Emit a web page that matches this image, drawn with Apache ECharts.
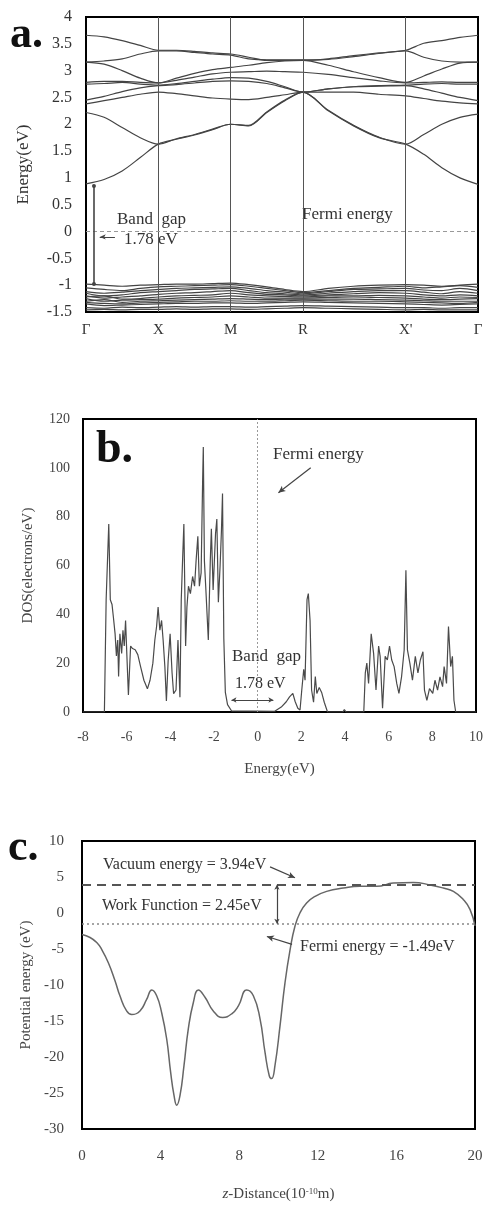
<!DOCTYPE html>
<html>
<head>
<meta charset="utf-8">
<script src="https://cdn.jsdelivr.net/npm/echarts@6.0.0/dist/echarts.min.js"></script>
<style>
html,body{margin:0;padding:0;background:#fff;}
#main{width:486px;height:1209px;}
</style>
</head>
<body>
<div id="main"></div>
<script>
//----------------------------- a. band structure -----------------------------
var kPos = [0,0.25,0.5,0.75,1,1.25,1.5,1.75,2,2.25,2.5,2.75,3,3.35,3.7,4.05,4.42,4.67,4.92,5.17,5.42];
var kTickPos = [0,1,2,3,4.42,5.42];
var kTickNames = ['Γ','X','M','R',"X'",'Γ'];

// conduction bands (eV), one value per kPos
var cb1 = [0.89,0.97,1.13,1.38,1.63,1.72,1.8,1.9,2.0,1.97,2.22,2.44,2.6,2.25,1.97,1.75,1.63,1.44,1.19,1.0,0.88];
var cb2 = [2.22,2.13,1.94,1.75,1.63,1.73,1.81,1.91,2.0,1.98,2.23,2.45,2.6,2.26,1.98,1.76,1.63,1.81,2.0,2.13,2.19];
var cb3 = [2.38,2.44,2.5,2.56,2.6,2.57,2.53,2.49,2.47,2.46,2.5,2.55,2.6,2.6,2.6,2.56,2.53,2.48,2.43,2.4,2.38];
var cb4 = [2.45,2.52,2.61,2.68,2.72,2.74,2.77,2.8,2.81,2.8,2.76,2.68,2.6,2.66,2.7,2.71,2.72,2.66,2.58,2.5,2.44];
var cb5 = [2.75,2.76,2.78,2.75,2.73,2.76,2.8,2.84,2.87,2.86,2.8,2.7,2.6,2.66,2.7,2.72,2.73,2.75,2.76,2.75,2.75];
var cb6 = [2.78,2.8,2.8,2.78,2.77,2.82,2.88,2.94,2.97,2.98,2.99,2.98,2.97,2.93,2.87,2.81,2.77,2.78,2.79,2.78,2.78];
var cb7 = [3.16,3.12,3.0,2.86,2.77,2.86,2.95,3.02,3.06,3.1,3.15,3.18,3.19,3.1,2.98,2.87,2.78,2.9,3.03,3.14,3.16];
var cb8 = [3.16,3.18,3.22,3.31,3.37,3.37,3.34,3.31,3.29,3.22,3.2,3.2,3.2,3.21,3.26,3.32,3.37,3.25,3.18,3.16,3.16];
var cb9 = [3.66,3.63,3.56,3.47,3.38,3.38,3.36,3.33,3.31,3.25,3.19,3.19,3.19,3.22,3.28,3.33,3.38,3.51,3.56,3.62,3.66];

// valence bands (eV)
var vb1 = [-0.98,-1.0,-1.02,-1.0,-0.99,-0.98,-0.98,-0.97,-0.96,-0.99,-1.03,-1.08,-1.12,-1.06,-1.02,-1.0,-0.99,-1.0,-1.02,-1.0,-0.98];
var vb2 = [-1.05,-1.08,-1.1,-1.06,-1.03,-1.02,-1.01,-1.0,-0.99,-1.02,-1.06,-1.1,-1.14,-1.1,-1.06,-1.04,-1.02,-1.05,-1.03,-1.01,-1.04];
var vb3 = [-1.12,-1.15,-1.13,-1.1,-1.08,-1.06,-1.05,-1.04,-1.03,-1.06,-1.1,-1.13,-1.16,-1.12,-1.08,-1.07,-1.06,-1.09,-1.1,-1.06,-1.1];
var vb4 = [-1.15,-1.2,-1.18,-1.14,-1.12,-1.1,-1.08,-1.07,-1.06,-1.1,-1.14,-1.16,-1.18,-1.15,-1.12,-1.1,-1.1,-1.13,-1.16,-1.12,-1.15];
var vb5 = [-1.2,-1.24,-1.22,-1.2,-1.17,-1.15,-1.14,-1.12,-1.1,-1.14,-1.17,-1.18,-1.2,-1.18,-1.16,-1.14,-1.15,-1.18,-1.2,-1.18,-1.2];
var vb6 = [-1.22,-1.2,-1.26,-1.25,-1.22,-1.2,-1.19,-1.18,-1.15,-1.18,-1.2,-1.21,-1.22,-1.2,-1.2,-1.19,-1.2,-1.22,-1.24,-1.22,-1.23];
var vb7 = [-1.25,-1.3,-1.28,-1.27,-1.26,-1.24,-1.23,-1.22,-1.2,-1.22,-1.24,-1.24,-1.24,-1.23,-1.22,-1.23,-1.24,-1.26,-1.27,-1.26,-1.25];
var vb8 = [-1.3,-1.27,-1.32,-1.3,-1.29,-1.28,-1.27,-1.26,-1.25,-1.26,-1.27,-1.26,-1.26,-1.26,-1.26,-1.27,-1.28,-1.29,-1.3,-1.3,-1.3];
var vb9 = [-1.32,-1.34,-1.35,-1.33,-1.32,-1.31,-1.3,-1.3,-1.29,-1.3,-1.3,-1.29,-1.28,-1.29,-1.3,-1.3,-1.31,-1.32,-1.33,-1.34,-1.32];
var vb10 = [-1.35,-1.38,-1.37,-1.36,-1.35,-1.34,-1.34,-1.33,-1.33,-1.34,-1.33,-1.32,-1.31,-1.32,-1.33,-1.34,-1.35,-1.36,-1.37,-1.36,-1.35];
var vb11 = [-1.42,-1.43,-1.41,-1.42,-1.41,-1.4,-1.41,-1.4,-1.4,-1.41,-1.4,-1.39,-1.38,-1.39,-1.4,-1.41,-1.42,-1.42,-1.43,-1.42,-1.42];
var vb12 = [-1.46,-1.45,-1.46,-1.45,-1.45,-1.44,-1.45,-1.44,-1.44,-1.45,-1.44,-1.43,-1.42,-1.43,-1.44,-1.45,-1.46,-1.45,-1.46,-1.46,-1.46];

var condBands = [cb1,cb2,cb3,cb4,cb5,cb6,cb7,cb8,cb9];
var valBands = [vb1,vb2,vb3,vb4,vb5,vb6,vb7,vb8,vb9,vb10,vb11,vb12];

//----------------------------- b. DOS -----------------------------
// [energy eV, DOS electrons/eV]
var dosCurve = [
  [-8,0],[-7.02,0],[-6.94,46],[-6.82,77],[-6.75,46],[-6.67,44],[-6.61,39],[-6.53,32],[-6.47,23],
  [-6.41,29.5],[-6.37,14.5],[-6.31,32],[-6.23,24],[-6.17,33.5],[-6.11,27],[-6.05,37.5],[-5.99,23],
  [-5.92,7],[-5.82,27],[-5.73,26],[-5.61,25.5],[-5.49,23.5],[-5.36,18.5],[-5.21,13],[-5.05,9.5],
  [-4.93,13],[-4.8,20],[-4.71,29.5],[-4.63,35],[-4.56,43],[-4.48,33.5],[-4.4,37.5],[-4.33,29.5],
  [-4.25,18.5],[-4.18,4.5],[-4.1,21],[-4.01,32],[-3.92,16],[-3.85,7.5],[-3.74,9],[-3.65,29.5],
  [-3.56,6],[-3.5,46],[-3.44,62],[-3.38,77],[-3.3,27],[-3.24,43],[-3.17,51.5],[-3.08,48.5],
  [-2.98,55.5],[-2.89,51.5],[-2.82,62],[-2.74,72],[-2.67,51.5],[-2.59,57],[-2.52,95],[-2.49,108.5],
  [-2.44,62],[-2.38,51.5],[-2.26,29.5],[-2.17,62],[-2.12,75],[-2.04,50],[-1.93,73],[-1.87,79],
  [-1.8,45],[-1.72,60],[-1.66,74],[-1.61,89.5],[-1.55,30],[-1.48,8],[-1.38,3],[-1.2,0.5],
  [0.78,0.3],[1.08,2],[1.31,4.2],[1.46,6.2],[1.61,7.6],[1.72,4.2],[1.84,1.5],[1.94,0.8],
  [2.02,9],[2.11,17.5],[2.17,13],[2.26,46],[2.32,48.5],[2.4,37.5],[2.47,9],[2.56,4],[2.64,14.5],
  [2.71,7.6],[2.82,10],[2.93,8],[3.05,4],[3.2,0],[3.9,0],[3.97,1],[4.05,0],[4.86,0],
  [4.93,16],[5.0,20],[5.08,11.7],[5.2,32],[5.31,24],[5.42,9],[5.54,27],[5.61,22.8],[5.72,1.5],
  [5.84,22.8],[5.94,21.3],[6.04,27],[6.14,21.3],[6.25,18.6],[6.37,11.7],[6.47,7.6],[6.59,14.4],
  [6.71,25.4],[6.79,58],[6.86,25.4],[6.97,20],[7.09,13],[7.22,22.8],[7.34,16],[7.45,21.3],
  [7.57,24.7],[7.64,9],[7.75,4.8],[7.87,9.6],[8.02,7.6],[8.12,13],[8.24,9],[8.35,14.4],
  [8.47,10.4],[8.54,18.6],[8.65,11.7],[8.74,35],[8.84,18.6],[8.92,22.8],[8.99,4.8],[9.07,0],[10,0]
];

//----------------------------- c. potential -----------------------------
var potX = [0,0.41,0.75,1.0,1.34,1.68,1.93,2.27,2.53,2.95,3.29,3.55,3.8,4.05,4.31,4.51,4.68,4.82,4.99,5.19,
  5.41,5.67,5.92,6.26,6.68,7.16,7.62,7.96,8.38,8.72,9.06,9.31,9.53,9.65,9.82,10.08,10.33,10.59,10.84,11.09,
  11.43,11.86,12.45,13.3,14.15,15.0,15.84,16.86,17.71,18.39,18.9,19.41,19.75,20];
var potE = [-3.0,-3.4,-4.1,-5.05,-6.9,-9.4,-11.5,-13.6,-14.1,-13.6,-12.0,-10.7,-11.5,-13.8,-17.5,-22.1,-25.3,-26.7,-25.3,-21.2,
  -16.1,-12.4,-10.7,-11.7,-13.6,-14.5,-14.0,-12.9,-10.7,-11.5,-14.7,-19.3,-22.6,-23.0,-21.2,-15.6,-9.7,-5.1,-1.8,0.0,
  1.4,2.3,3.0,3.46,3.7,3.7,4.15,4.25,3.9,3.46,3.0,1.85,0.47,-1.8];
var vacuumLevel = 3.94;
var fermiLevel = -1.49;

var FONT = '"Liberation Serif", "DejaVu Serif", serif';
var chart = echarts.init(document.getElementById('main'));

function pairs(xs, ys) {
  return xs.map(function (x, i) { return [x, ys[i]]; });
}

var series = [];
condBands.concat(valBands).forEach(function (b, n) {
  series.push({
    type: 'line', xAxisIndex: 0, yAxisIndex: 0, data: pairs(kPos, b),
    showSymbol: false, smooth: 0.3, silent: true,
    lineStyle: { color: '#444', width: 1.2 }
  });
});

// symmetry lines, Fermi level, band gap marker
series[0].markLine = {
  silent: true, symbol: 'none', label: { show: false },
  data: [
    { xAxis: 1, lineStyle: { color: '#555', width: 1, type: 'solid' } },
    { xAxis: 2, lineStyle: { color: '#555', width: 1, type: 'solid' } },
    { xAxis: 3, lineStyle: { color: '#555', width: 1, type: 'solid' } },
    { xAxis: 4.42, lineStyle: { color: '#555', width: 1, type: 'solid' } },
    { yAxis: 0, lineStyle: { color: '#999', width: 1, type: [4, 3] } },
    [{ coord: [0.11, 0.85], symbol: 'circle', symbolSize: 4, lineStyle: { color: '#444', width: 1.6, type: 'solid' } },
     { coord: [0.11, -0.98], symbol: 'circle', symbolSize: 4 }],
    [{ coord: [0.4, -0.1], symbol: 'none', lineStyle: { color: '#444', width: 1, type: 'solid' } },
     { coord: [0.19, -0.1], symbol: 'arrow', symbolSize: [4, 6] }]
  ]
};

series.push({
  type: 'line', xAxisIndex: 1, yAxisIndex: 1, data: dosCurve,
  showSymbol: false, silent: true,
  lineStyle: { color: '#4a4a4a', width: 1.2 },
  markLine: {
    silent: true, symbol: 'none', label: { show: false },
    data: [
      { xAxis: 0, lineStyle: { color: '#999', width: 1, type: [2, 2] } },
      [{ coord: [2.43, 100], symbol: 'none', lineStyle: { color: '#444', width: 1.2, type: 'solid' } },
       { coord: [0.95, 89.8], symbol: 'arrow', symbolSize: [5, 7] }],
      [{ coord: [-1.2, 4.9], symbol: 'arrow', symbolSize: [4, 5], lineStyle: { color: '#444', width: 1, type: 'solid' } },
       { coord: [0.72, 4.9], symbol: 'arrow', symbolSize: [4, 5] }]
    ]
  }
});

series.push({
  type: 'line', xAxisIndex: 2, yAxisIndex: 2, data: pairs(potX, potE),
  showSymbol: false, smooth: 0.5, silent: true,
  lineStyle: { color: '#666', width: 1.5 },
  markLine: {
    silent: true, symbol: 'none', label: { show: false },
    data: [
      { yAxis: vacuumLevel, lineStyle: { color: '#555', width: 2, type: [9, 6] } },
      { yAxis: fermiLevel, lineStyle: { color: '#888', width: 1.5, type: [2, 3] } },
      [{ coord: [9.57, 6.4], symbol: 'none', lineStyle: { color: '#444', width: 1.2, type: 'solid' } },
       { coord: [10.84, 4.9], symbol: 'arrow', symbolSize: [5, 7] }],
      [{ coord: [9.92, vacuumLevel], symbol: 'arrow', symbolSize: [4, 5], lineStyle: { color: '#444', width: 1.2, type: 'solid' } },
       { coord: [9.92, fermiLevel], symbol: 'arrow', symbolSize: [4, 5] }],
      [{ coord: [10.69, -4.36], symbol: 'none', lineStyle: { color: '#444', width: 1.2, type: 'solid' } },
       { coord: [9.41, -3.26], symbol: 'arrow', symbolSize: [5, 7] }]
    ]
  }
});

function box(left, top, width, height) {
  return { left: left, top: top, width: width, height: height, show: true,
    borderColor: '#000', borderWidth: 2, backgroundColor: 'transparent' };
}
var noLine = { show: false };

var option = {
  animation: false,
  textStyle: { fontFamily: FONT },
  grid: [box(86, 17, 392, 295), box(83, 419, 397, 293), box(82, 841, 393, 288)],
  xAxis: [
    { gridIndex: 0, type: 'value', min: 0, max: 5.42,
      axisLine: noLine, axisTick: noLine, splitLine: noLine,
      axisLabel: { customValues: kTickPos, hideOverlap: false, fontSize: 15, color: '#333', margin: 11, fontFamily: FONT,
        formatter: function (v) { return kTickNames[kTickPos.indexOf(v)]; } } },
    { gridIndex: 1, type: 'value', min: -8, max: 10, interval: 2,
      axisLine: noLine, axisTick: noLine, splitLine: noLine,
      axisLabel: { fontSize: 14, color: '#444', margin: 18, fontFamily: FONT },
      name: 'Energy(eV)', nameLocation: 'middle', nameGap: 50,
      nameTextStyle: { fontSize: 15, color: '#444', fontFamily: FONT } },
    { gridIndex: 2, type: 'value', min: 0, max: 20, interval: 4,
      axisLine: noLine, axisTick: noLine, splitLine: noLine,
      axisLabel: { fontSize: 15, color: '#444', margin: 20, fontFamily: FONT },
      name: '{it|z}-Distance(10{sup|-10}m)', nameLocation: 'middle', nameGap: 58,
      nameTextStyle: { fontSize: 15, color: '#444', fontFamily: FONT,
        rich: { it: { fontStyle: 'italic', fontSize: 15, color: '#444', fontFamily: FONT },
                sup: { fontSize: 9, color: '#444', verticalAlign: 'top', fontFamily: FONT } } } }
  ],
  yAxis: [
    { gridIndex: 0, type: 'value', min: -1.5, max: 4, interval: 0.5,
      axisLine: noLine, axisTick: noLine, splitLine: noLine,
      axisLabel: { fontSize: 16, color: '#333', margin: 14, fontFamily: FONT },
      name: 'Energy(eV)', nameLocation: 'middle', nameGap: 54,
      nameTextStyle: { fontSize: 17, color: '#333', fontFamily: FONT } },
    { gridIndex: 1, type: 'value', min: 0, max: 120, interval: 20,
      axisLine: noLine, axisTick: noLine, splitLine: noLine,
      axisLabel: { fontSize: 14, color: '#444', margin: 13, fontFamily: FONT },
      name: 'DOS(electrons/eV)', nameLocation: 'middle', nameGap: 47,
      nameTextStyle: { fontSize: 15, color: '#444', fontFamily: FONT } },
    { gridIndex: 2, type: 'value', min: -30, max: 10, interval: 5,
      axisLine: noLine, axisTick: noLine, splitLine: noLine,
      axisLabel: { fontSize: 15, color: '#444', margin: 18, fontFamily: FONT },
      name: 'Potential energy (eV)', nameLocation: 'middle', nameGap: 48,
      nameTextStyle: { fontSize: 15, color: '#444', fontFamily: FONT } }
  ],
  series: series,
  graphic: [
    { type: 'text', left: 10, top: 14, style: { text: 'a.', font: 'bold 44px ' + FONT, fill: '#111' } },
    { type: 'text', left: 117, top: 211, style: { text: 'Band  gap', font: '17px ' + FONT, fill: '#333' } },
    { type: 'text', left: 124, top: 231, style: { text: '1.78 eV', font: '17px ' + FONT, fill: '#333' } },
    { type: 'text', left: 302, top: 206, style: { text: 'Fermi energy', font: '17px ' + FONT, fill: '#333' } },

    { type: 'text', left: 96, top: 427, style: { text: 'b.', font: 'bold 46px ' + FONT, fill: '#111' } },
    { type: 'text', left: 273, top: 446, style: { text: 'Fermi energy', font: '17px ' + FONT, fill: '#333' } },
    { type: 'text', left: 232, top: 648, style: { text: 'Band  gap', font: '17px ' + FONT, fill: '#333' } },
    { type: 'text', left: 235, top: 676, style: { text: '1.78 eV', font: '16px ' + FONT, fill: '#333' } },

    { type: 'text', left: 8, top: 827, style: { text: 'c.', font: 'bold 44px ' + FONT, fill: '#111' } },
    { type: 'text', left: 103, top: 857, style: { text: 'Vacuum energy = 3.94eV', font: '16px ' + FONT, fill: '#333' } },
    { type: 'text', left: 102, top: 898, style: { text: 'Work Function = 2.45eV', font: '16px ' + FONT, fill: '#333' } },
    { type: 'text', left: 300, top: 939, style: { text: 'Fermi energy = -1.49eV', font: '16px ' + FONT, fill: '#333' } }
  ]
};

chart.setOption(option);
</script>
</body>
</html>
